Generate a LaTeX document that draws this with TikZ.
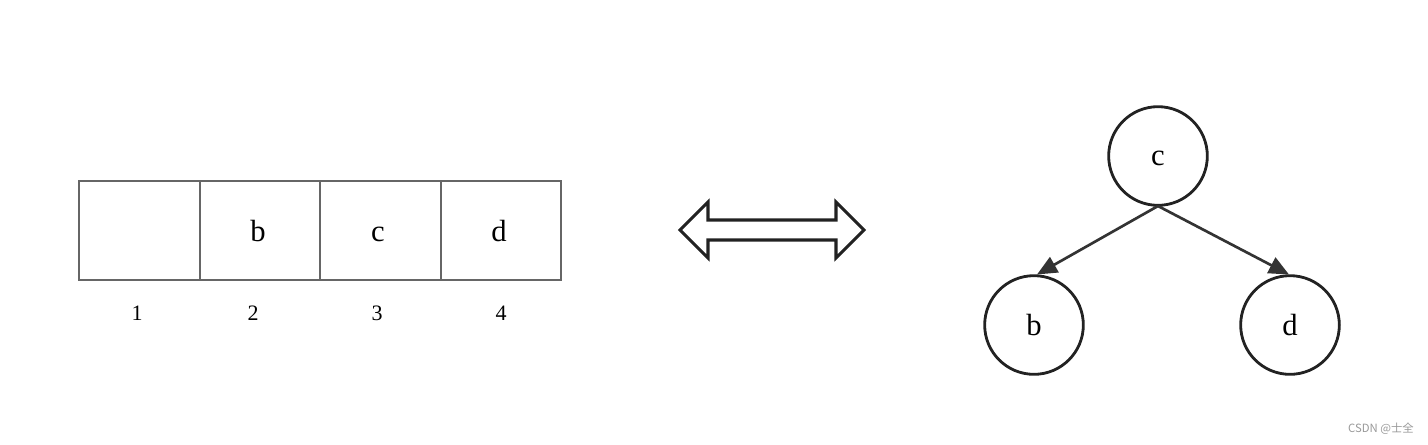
\documentclass[tikz,border=0pt]{standalone}
\usepackage{fontspec}
\setmainfont{Liberation Serif}
\newfontfamily\wmfont{Noto Sans CJK SC}
\usetikzlibrary{arrows.meta}
\definecolor{boxgray}{HTML}{666666}
\definecolor{ink}{HTML}{222222}
\definecolor{edgecol}{HTML}{333333}
\tikzset{
  cell/.style={draw=boxgray, line width=1.5pt, minimum width=90.4pt, minimum height=74.25pt, inner sep=0pt, anchor=north west},
  cellfont/.style={font=\fontsize{23}{26}\selectfont, inner sep=0pt, anchor=base},
  idx/.style={font=\fontsize{16.5}{19}\selectfont, inner sep=0pt, anchor=base},
  tnode/.style={circle, draw=ink, line width=2.1pt, minimum size=74pt, inner sep=0pt},
  edge/.style={draw=edgecol, line width=2pt, -{Triangle[length=15pt,width=13pt]}},
  bigarrow/.style={draw=ink, line width=2.3pt, line join=miter}
}
\begin{document}
\begin{tikzpicture}[x=0.75pt,y=-0.75pt]
\useasboundingbox (0,0) rectangle (1428,444);
% array cells
\node[cell] (c1) at (78,180) {};
\node[cell] (c2) at (198.5,180) {};
\node[cell] (c3) at (319,180) {};
\node[cell] (c4) at (439.5,180) {};
\node[cellfont] (lb) at (258,241) {b};
\node[cellfont] (lc) at (378,241) {c};
\node[cellfont] (ld) at (499,241) {d};
\node[idx] (n1) at (137,320) {1};
\node[idx] (n2) at (253,320) {2};
\node[idx] (n3) at (377,320) {3};
\node[idx] (n4) at (501,320) {4};
% double arrow
\draw[bigarrow] (680,230) -- (708,202) -- (708,220) -- (836,220) -- (836,202) -- (864,230)
  -- (836,258) -- (836,240) -- (708,240) -- (708,258) -- cycle;
% tree
\node[tnode] (tc) at (1158,156) {};
\node[tnode] (tb) at (1034,325) {};
\node[tnode] (td) at (1290,325) {};
\node[cellfont] (tcl) at (1158,165) {c};
\node[cellfont] (tbl) at (1034,335) {b};
\node[cellfont] (tdl) at (1290,335) {d};
\coordinate (tcb) at (1158,206);
\draw[edge] (tcb) -- (1037,274.5);
\draw[edge] (tcb) -- (1289,274.5);
% watermark
\node[text=gray!80, font=\wmfont\fontsize{8.5}{10}\selectfont, inner sep=0pt] (wm) at (1381,429) {CSDN @士全};
\end{tikzpicture}
\end{document}
